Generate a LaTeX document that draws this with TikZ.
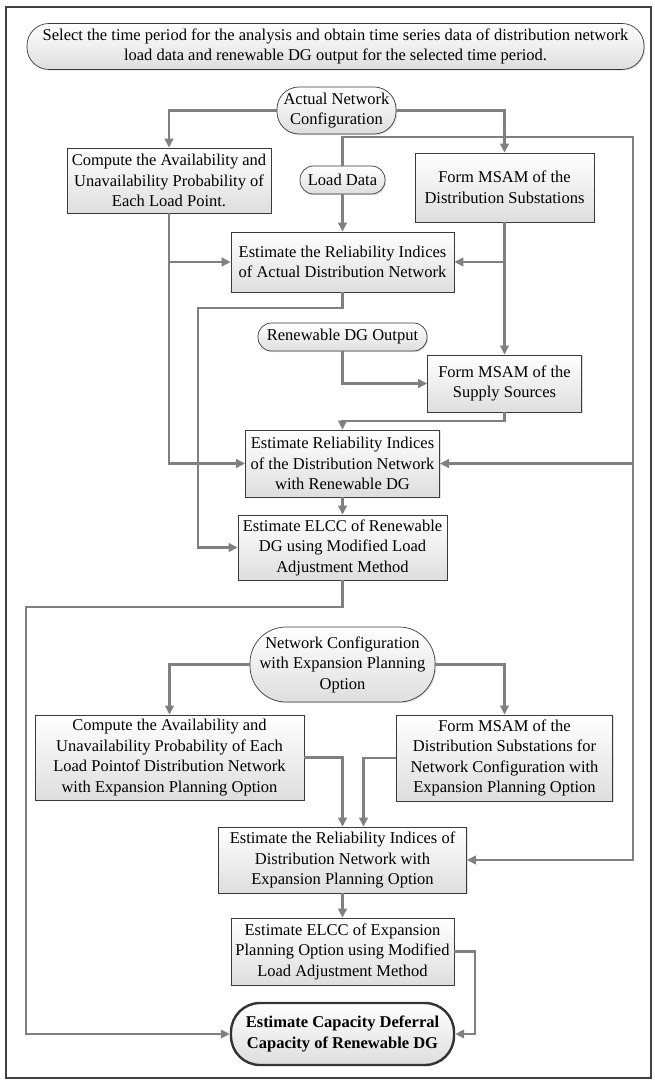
\documentclass[tikz,border=0pt]{standalone}
\usepackage{fontspec}
\setmainfont{Liberation Serif}
\usetikzlibrary{arrows.meta,shadows,calc}
\definecolor{linec}{HTML}{808080}
\definecolor{framec}{HTML}{404040}
\definecolor{boxc}{HTML}{3A3A3A}
\tikzset{
  base/.style={draw=boxc, line width=0.7pt, top color=white, bottom color=black!13,
    align=center, inner sep=0pt, font=\fontsize{16.5}{20.5}\selectfont,
    drop shadow={shadow xshift=1.2pt, shadow yshift=-1.2pt, opacity=0.25}},
  procbox/.style={base},
  pill/.style={base, rounded corners=#1},
  arr/.style={draw=linec, line width=2.5pt, -{Triangle[length=9pt,width=8.5pt]}},
  ln/.style={draw=linec, line width=2.5pt},
  jdot/.style={fill=linec, draw=none, circle, minimum size=4.5pt, inner sep=0pt}
}
\begin{document}
\begin{tikzpicture}[x=1pt,y=-1pt]
\useasboundingbox (0,0) rectangle (654,1083);
\draw[framec, line width=2pt] (6,7) rectangle (651,1078);

\node[pill=22pt, minimum width=617pt, minimum height=46pt] (top) at (335.5,46.5)
  {Select the time period for the analysis and obtain time series data of distribution network\\load data and renewable DG output for the selected time period.};
\node[pill=22pt, minimum width=119pt, minimum height=47pt] (anc) at (336.5,110.5)
  {Actual Network\\Configuration};
\node[procbox, minimum width=204pt, minimum height=65pt] (comp1) at (169,180.5)
  {Compute the Availability and\\Unavailability Probability of\\Each Load Point.};
\node[pill=13.5pt, minimum width=85pt, minimum height=28pt] (load) at (342.5,180)
  {Load Data};
\node[procbox, minimum width=179pt, minimum height=69pt] (msam1) at (504.5,187.5)
  {Form MSAM of the\\Distribution Substations};
\node[procbox, minimum width=223pt, minimum height=60pt] (est1) at (342.5,262)
  {Estimate the Reliability Indices\\of Actual Distribution Network};
\node[pill=13.5pt, minimum width=169pt, minimum height=28pt] (rdg) at (342.5,337)
  {Renewable DG Output};
\node[procbox, minimum width=154pt, minimum height=57pt] (msam2) at (504.5,383.5)
  {Form MSAM of the\\Supply Sources};
\node[procbox, minimum width=194pt, minimum height=67pt] (est2) at (342.5,463.5)
  {Estimate Reliability Indices\\of the Distribution Network\\with Renewable DG};
\node[procbox, minimum width=209pt, minimum height=65pt] (est3) at (342.5,547.5)
  {Estimate ELCC of Renewable\\DG using Modified Load\\Adjustment Method};
\node[pill=36pt, minimum width=185pt, minimum height=75pt] (ncfg) at (342.5,664.5)
  {Network Configuration\\with Expansion Planning\\Option};
\node[procbox, minimum width=269pt, minimum height=85pt] (comp2) at (169.5,757.5)
  {Compute the Availability and\\Unavailability Probability of Each\\Load Pointof Distribution Network\\with Expansion Planning Option};
\node[procbox, minimum width=216pt, minimum height=86pt] (msam3) at (504.5,758)
  {Form MSAM of the\\Distribution Substations for\\Network Configuration with\\Expansion Planning Option};
\node[procbox, minimum width=248pt, minimum height=66pt] (est4) at (342.5,860)
  {Estimate the Reliability Indices of\\Distribution Network with\\Expansion Planning Option};
\node[procbox, minimum width=223pt, minimum height=67pt] (est5) at (342.5,951.5)
  {Estimate ELCC of Expansion\\Planning Option using Modified\\Load Adjustment Method};
\node[pill=29pt, minimum width=223pt, minimum height=62pt, line width=2.4pt, draw=black!80,
  font=\fontsize{16.5}{20.5}\selectfont\bfseries] (final) at (342.5,1034)
  {Estimate Capacity Deferral\\Capacity of Renewable DG};

% coordinates
\coordinate (rt) at (633,137);
\coordinate (e1a) at (198,308);
\coordinate (m2a) at (504.5,421);
\coordinate (e3a) at (26,607);
\coordinate (e5a) at (475,951.5);

% connectors
\draw[arr] (anc.west) -| (comp1.north);
\draw[arr] (anc.east) -| (msam1.north);
\draw[arr] (load.north) |- (rt) |- (est4.east);
\draw[arr] (rt |- est2.east) -- (est2.east);
\draw[arr] (load.south) -- (est1.north);
\draw[arr] (comp1.south) |- (est2.west);
\draw[arr] (comp1.south |- est1.west) -- (est1.west);
\draw[arr] (msam1.south) -- (msam2.north);
\draw[arr] (msam1.south |- est1.east) -- (est1.east);
\draw[arr] (est1.south) |- (e1a) |- (est3.west);
\draw[arr] (rdg.south) |- (msam2.west);
\draw[arr] (msam2.south) -- (m2a) -| (est2.north);
\draw[arr] (est2.south) -- (est3.north);
\draw[arr] (est3.south) |- (e3a) |- (final.west);
\draw[arr] (ncfg.west) -| (comp2.north);
\draw[arr] (ncfg.east) -| (msam3.north);
\draw[arr] (comp2.east) -| (est4.north);
\draw[arr] (msam3.west) -| ([xshift=21pt]est4.north);
\draw[arr] (est4.south) -- (est5.north);
\draw[arr] (est5.east) -| (e5a |- final.east) -- (final.east);

% junction dots
\node[jdot] (j1) at (504.5,137) {};
\node[jdot] (j2) at (198,463.5) {};
\end{tikzpicture}
\end{document}
